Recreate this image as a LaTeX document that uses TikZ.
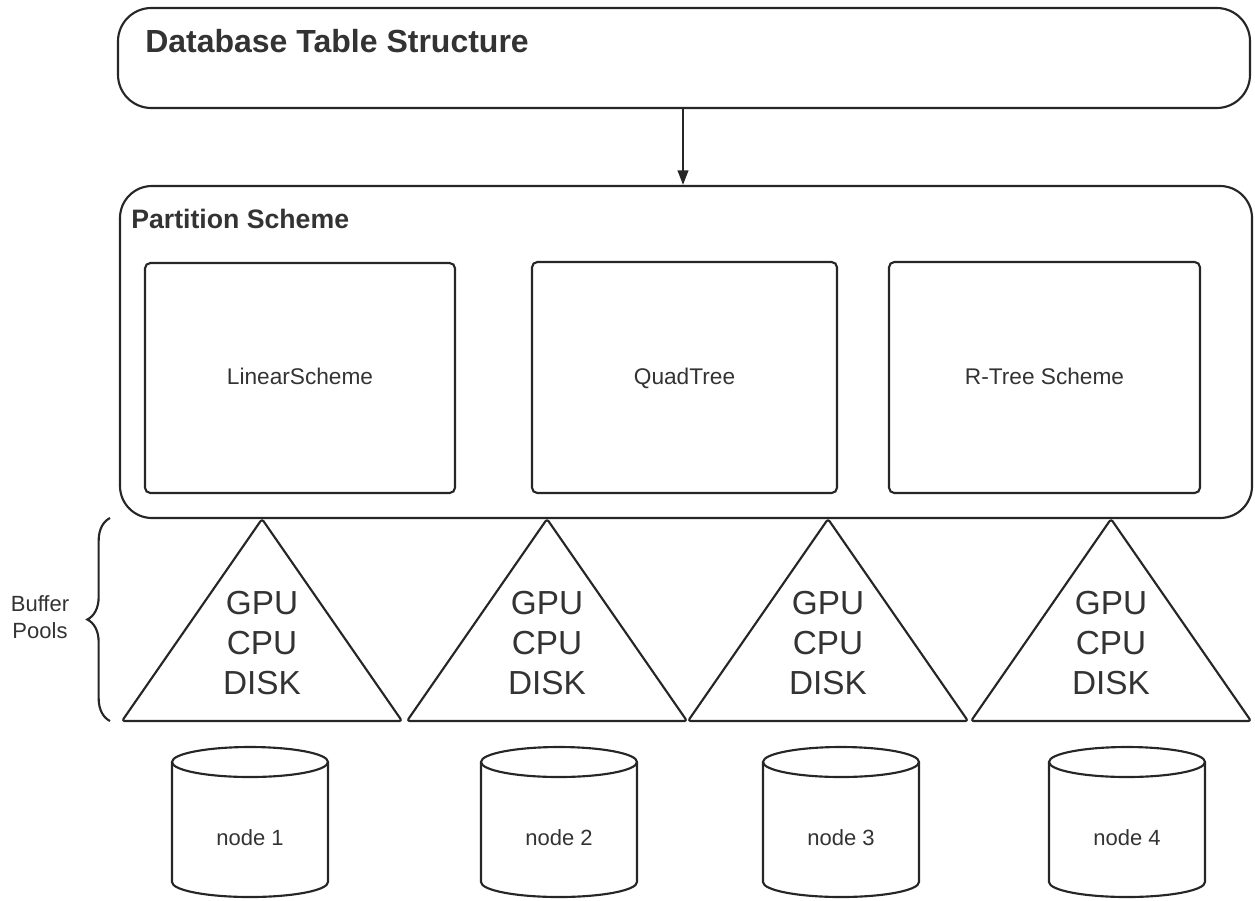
\documentclass[tikz,border=0pt]{standalone}
\usepackage{fontspec}
\setmainfont{Liberation Sans}
\usetikzlibrary{arrows.meta,fit,decorations.pathreplacing}
\definecolor{ln}{HTML}{262626}
\definecolor{tx}{HTML}{333333}
\tikzset{
  lineset/.style={draw=ln, line width=1.6pt},
  bigbox/.style={lineset, rounded corners=25pt, inner sep=0pt},
  schemebox/.style={lineset, rounded corners=4pt, inner sep=0pt},
  boxlabel/.style={text=tx, anchor=base, inner sep=0pt, font=\fontsize{17}{20}\selectfont},
  tritext/.style={text=tx, align=center, font=\fontsize{25}{30}\selectfont},
  cyltext/.style={text=tx, anchor=base, inner sep=0pt, font=\fontsize{16.5}{20}\selectfont},
  arrowset/.style={lineset, -{Triangle[length=11pt,width=8pt]}},
}
\begin{document}
\begin{tikzpicture}[x=0.75pt,y=-0.75pt]
\useasboundingbox (0,0) rectangle (1255,900);

% Database table structure
\coordinate (a1) at (118,8); \coordinate (a2) at (1250,108);
\node[bigbox, fit=(a1)(a2)] (dbt) {};
\node[anchor=base west, inner sep=0pt, text=tx, font=\bfseries\fontsize{24}{28}\selectfont] (dbtitle) at (145,52) {Database Table Structure};

% Partition scheme
\coordinate (p1) at (120,186); \coordinate (p2) at (1252,518);
\node[bigbox, rounded corners=24pt, fit=(p1)(p2)] (ps) {};
\node[anchor=base west, inner sep=0pt, text=tx, font=\bfseries\fontsize{20}{24}\selectfont] (pstitle) at (131,228) {Partition Scheme};

% Arrow
\coordinate (ax) at (683,0);
\draw[arrowset] (dbt.south -| ax) -- (ps.north -| ax);

% Scheme boxes
\coordinate (l1) at (145,263); \coordinate (l2) at (455,493);
\node[schemebox, fit=(l1)(l2)] (lin) {};
\node[boxlabel] (linlabel) at (lin.center |- 0,384) {LinearScheme};
\coordinate (q1) at (532,262); \coordinate (q2) at (837,493);
\node[schemebox, fit=(q1)(q2)] (quad) {};
\node[boxlabel] (quadlabel) at (quad.center |- 0,384) {QuadTree};
\coordinate (r1) at (889,262); \coordinate (r2) at (1200,493);
\node[schemebox, fit=(r1)(r2)] (rtree) {};
\node[boxlabel] (rtreelabel) at (rtree.center |- 0,384) {R-Tree Scheme};

% Buffer pool triangles
\foreach \i/\cx/\bl/\br in {1/262/122/402, 2/547/407/687, 3/828/688/968, 4/1111/971/1251}{
  \coordinate (apex\i) at (\cx,519);
  \coordinate (bl\i) at (\bl,721);
  \coordinate (br\i) at (\br,721);
  \draw[lineset, line join=round, rounded corners=2pt] (apex\i) -- (br\i) -- (bl\i) -- cycle;
  \node[tritext] (pool\i) at (\cx,643) {GPU\\CPU\\DISK};
}

% Brace and label
\coordinate (bb) at (110,721); \coordinate (bt) at (110,518);
\draw[lineset, decorate, decoration={brace, amplitude=17pt}] (bb) -- (bt);
\node[text=tx, align=center, font=\fontsize{16.5}{20}\selectfont] (buf) at (40,617) {Buffer\\Pools};

% Cylinders
\foreach \i/\cx in {1/250, 2/559, 3/841, 4/1127}{
  \draw[lineset] (\cx-78,762) -- (\cx-78,882) arc[start angle=180, end angle=0, x radius=78, y radius=15] -- (\cx+78,762);
  \draw[lineset] (\cx,762) ellipse [x radius=78, y radius=15];
  \node[cyltext] (node\i) at (\cx,845) {node \i};
}
\end{tikzpicture}
\end{document}
